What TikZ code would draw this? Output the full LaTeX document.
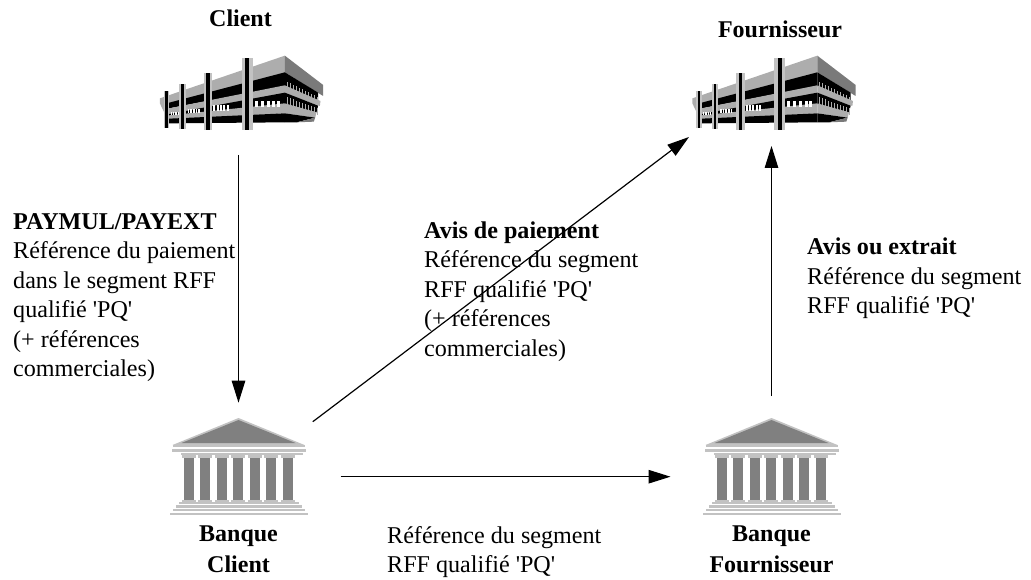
\documentclass[tikz,border=0pt]{standalone}
\usepackage{fontspec}
\setmainfont{Liberation Serif}
\usetikzlibrary{arrows.meta,positioning}
\newcommand{\QualPQ}{qualifié \textquotesingle PQ\textquotesingle}
\definecolor{wallgray}{gray}{0.68}
\definecolor{roofgray}{gray}{0.48}
\definecolor{stonegray}{gray}{0.5}
\definecolor{trimgray}{gray}{0.76}

\tikzset{
    building/.pic={
        \begin{scope}[scale=1/3,shift={(-305,-157.5)}]
            % front
            \fill[wallgray] (60,175) -- (435,47) -- (435,100) -- (88,190) -- (88,250) -- (72,215) -- (60,190) -- cycle;
            \fill[black] (88,188) -- (435,97) -- (435,138) -- (88,205) -- cycle;
            \fill[wallgray] (88,205) -- (435,136) -- (435,160) -- (88,224) -- cycle;
            \fill[black] (88,222) -- (435,158) -- (435,192) -- (88,230) -- cycle;
            \fill[wallgray] (88,226) -- (435,190) -- (435,220) -- (88,240) -- cycle;
            \fill[black] (88,236) -- (435,220) -- (435,247) -- (88,250) -- cycle;
            \foreach \wx in {345,362,380,397,410}
                \fill[white] (\wx,183) rectangle ++(9,17);
            \foreach \wx in {220,230,240,250,260}
                \fill[white] (\wx,196) rectangle ++(6,16);
            \foreach \wx in {143,151,159,167,175}
                \fill[white] (\wx,206) rectangle ++(5,12);
            \foreach \wx in {92,99,106,113}
                \fill[white] (\wx,216) rectangle ++(4,8);
            % side
            \fill[roofgray] (435,47) -- (550,135) -- (550,168) -- (435,97) -- cycle;
            \fill[black] (435,97) -- (535,158) -- (535,182) -- (435,138) -- cycle;
            \fill[wallgray] (435,136) -- (542,183) -- (540,198) -- (435,160) -- cycle;
            \fill[black] (435,158) -- (535,197) -- (530,217) -- (435,192) -- cycle;
            \fill[wallgray] (435,190) -- (530,217) -- (526,233) -- (435,220) -- cycle;
            \fill[black] (435,220) -- (526,233) -- (470,247) -- (435,247) -- cycle;
            \fill[roofgray] (470,247) -- (526,233) -- (522,245) -- cycle;
            \foreach \wx in {440,449,...,530} {
                \fill[wallgray] (\wx,123+0.5*\wx-217.5) rectangle ++(3,22);
                \fill[wallgray] (\wx,170+0.36*\wx-156.6) rectangle ++(3,22);
            }
            % columns
            \foreach \cx/\ctop/\cbot/\cw in {322/55/270/16,204/100/270/13,128/132/268/10,80/152/265/8} {
                \fill[trimgray] (\cx-\cw,\ctop) rectangle (\cx+\cw,\cbot);
                \fill[black] (\cx-0.4*\cw,\ctop) rectangle (\cx+0.4*\cw,\cbot);
            }
        \end{scope}
    },
    bank/.pic={
        % roof
        \fill[trimgray] (0,-48) -- (66,-21) -- (-66,-21) -- cycle;
        \fill[stonegray] (0,-46) -- (57,-23) -- (-57,-23) -- cycle;
        \fill[trimgray] (-66,-21) rectangle (66,-19);
        \fill[trimgray] (-67,-17.5) rectangle (67,-14);
        \fill[trimgray] (-58,-13) rectangle (64,-11);
        % columns
        \foreach \cx in {-50,-33.5,-17,-0.5,16,32.5,49} {
            \fill[trimgray] (\cx-7,-11) rectangle (\cx+7,-8);
            \fill[stonegray] (\cx-5,-8) rectangle (\cx+5,34);
            \fill[trimgray] (\cx-7,34) rectangle (\cx+7,36);
        }
        % steps
        \fill[trimgray] (-60,36) rectangle (60,38);
        \fill[trimgray] (-63,39) rectangle (63,42);
        \fill[trimgray] (-66,43) rectangle (66,45);
        \fill[trimgray] (-69,46.5) rectangle (69,48.5);
    },
    iconbox/.style={minimum width=#1, inner sep=0pt, outer sep=0pt},
    lbl/.style={inner sep=0pt, align=left, anchor=north west, font=\fontsize{24.1}{29.5}\selectfont},
    title/.style={inner sep=0pt, align=center, font=\bfseries\fontsize{24}{30.5}\selectfont},
    flow/.style={-{Triangle[length=22pt,width=13.5pt]}, line width=1.2pt}
}

\begin{document}
\begin{tikzpicture}[x=1pt,y=-1pt,node distance=25pt]
    \useasboundingbox (0,0) rectangle (1031,580);

    \node (Client) [iconbox=163pt, minimum height=75pt] at (241.5,92.5) {};
    \node (Fourn) [iconbox=163pt, minimum height=75pt] at (774,92.5) {};
    \node (BanqueC) [iconbox=138pt, minimum height=96pt] at (238.5,466) {};
    \node (BanqueF) [iconbox=138pt, minimum height=96pt] at (771.5,466) {};

    \pic at (Client.center) {building};
    \pic at (Fourn.center) {building};
    \pic at (BanqueC.center) {bank};
    \pic at (BanqueF.center) {bank};

    \node (ClientT) [title, above=28pt of Client, xshift=-1pt] {Client};
    \node (FournT) [title, above=17pt of Fourn, xshift=6pt] {Fournisseur};
    \node (BanqueCT) [title, below=12pt of BanqueC] {Banque\\Client};
    \node (BanqueFT) [title, below=12pt of BanqueF] {Banque\\Fournisseur};

    \node (Paymul) [lbl] at (13,213) {\textbf{PAYMUL/PAYEXT}\\Référence du paiement\\dans le segment RFF\\\QualPQ\\(+ références\\commerciales)};
    \node (AvisP) [lbl] at (424,221.5) {\textbf{Avis de paiement}\\Référence du segment\\RFF \QualPQ\\(+ références\\commerciales)};
    \node (AvisE) [lbl] at (807,238) {\textbf{Avis ou extrait}\\Référence du segment\\RFF \QualPQ};
    \node (RefSeg) [lbl] at (387,526) {Référence du segment\\RFF \QualPQ};

    \draw[flow, shorten <=25pt, shorten >=15.3pt] (BanqueC.north |- Client.south) -- (BanqueC.north);
    \draw[flow] ([shift={(5.3,3.7)}]BanqueC.north east) -- ([shift={(-3.5,7)}]Fourn.south west);
    \draw[flow] ([xshift=33pt,yshift=-10.7pt]BanqueC.east) -- ([xshift=-32pt,yshift=-10.7pt]BanqueF.west);
    \draw[flow, shorten <=22pt, shorten >=16pt] (BanqueF.north) -- (BanqueF.north |- Fourn.south);
\end{tikzpicture}
\end{document}
